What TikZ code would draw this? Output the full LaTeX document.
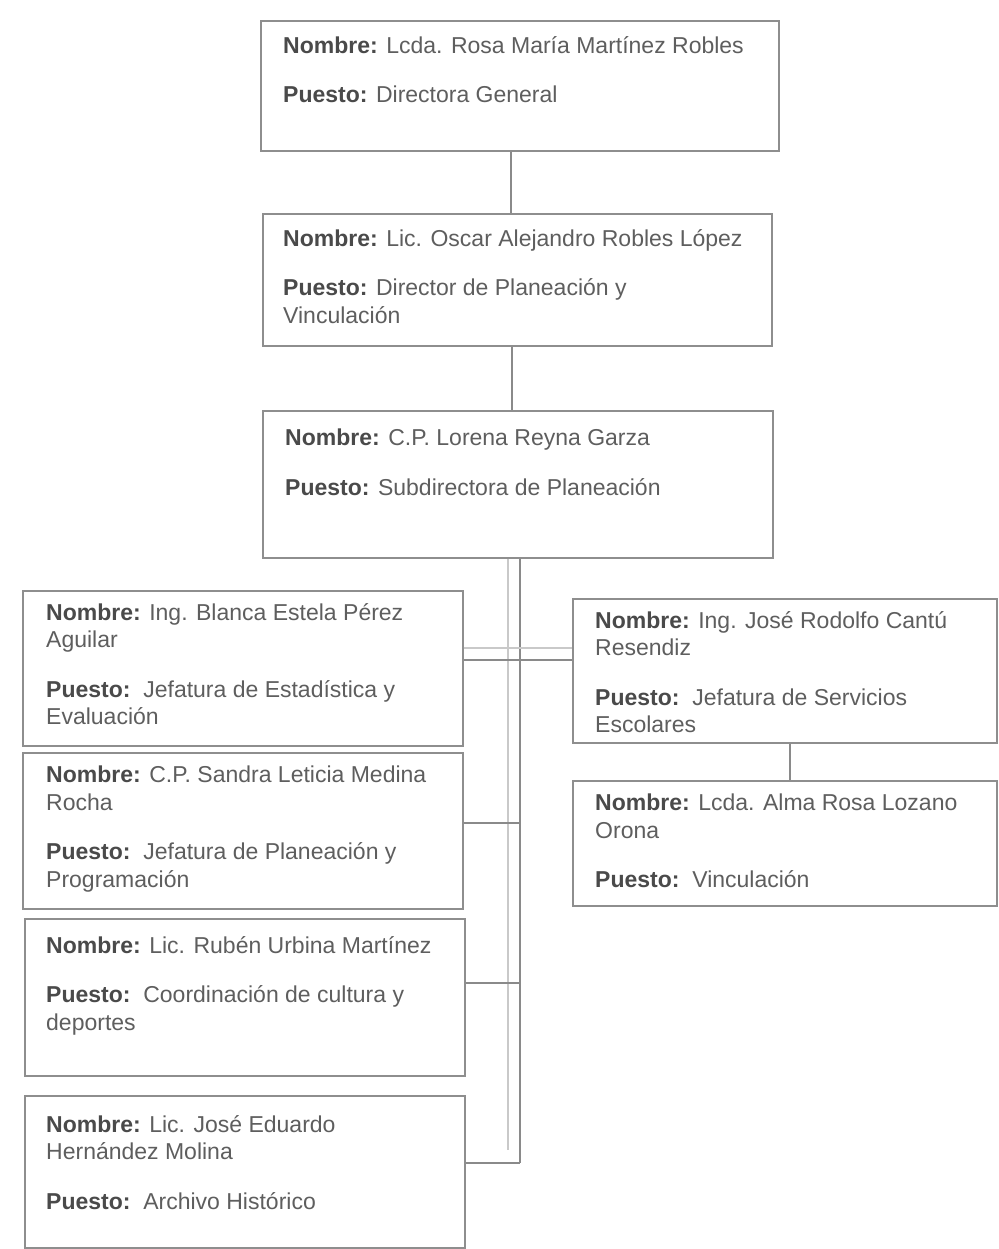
\documentclass[tikz,border=0pt]{standalone}
\usepackage{fontspec}
\setmainfont{Liberation Sans}
\definecolor{txtgray}{HTML}{5E5E5E}
\definecolor{lblgray}{HTML}{4A4A4A}
\definecolor{framegray}{HTML}{8E8E8E}
\definecolor{shadegray}{HTML}{C9C9C9}
\definecolor{linkgray}{HTML}{8A8A8A}
\newcommand\lbl[1]{{\color{lblgray}\bfseries #1}}
\tikzset{
  orgbox/.style={draw=framegray, line width=1.6pt, fill=white, inner sep=0pt},
  txt/.style={anchor=north west, inner sep=0pt, align=left, text=txtgray,
              font=\fontsize{23}{27.5}\selectfont},
  link/.style={draw=linkgray, line width=1.8pt},
  faintlink/.style={draw=shadegray, line width=1.4pt}
}
\begin{document}
\begin{tikzpicture}[x=1pt, y=-1pt]
\useasboundingbox[fill=white] (0,0) rectangle (998,1249);

% ---- boxes ----
\node[orgbox, minimum width=518pt, minimum height=130pt, anchor=north west] (b1) at (260,20) {};
\node[orgbox, minimum width=509pt, minimum height=132pt, anchor=north west] (b2) at (262,213) {};
\node[orgbox, minimum width=510pt, minimum height=147pt, anchor=north west] (b3) at (262,410) {};
\node[orgbox, minimum width=440pt, minimum height=155pt, anchor=north west] (l1) at (22,590) {};
\node[orgbox, minimum width=440pt, minimum height=156pt, anchor=north west] (l2) at (22,752) {};
\node[orgbox, minimum width=440pt, minimum height=157pt, anchor=north west] (l3) at (24,918) {};
\node[orgbox, minimum width=440pt, minimum height=152pt, anchor=north west] (l4) at (24,1095) {};
\node[orgbox, minimum width=424pt, minimum height=144pt, anchor=north west] (r1) at (572,598) {};
\node[orgbox, minimum width=424pt, minimum height=125pt, anchor=north west] (r2) at (572,780) {};

% ---- texts ----
\node[txt] (t1) at ([shift={(23,16)}]b1.north west)
  {\lbl{Nombre:} Lcda. Rosa María Martínez Robles\\[22pt]
   \lbl{Puesto:} Directora General};
\node[txt] (t2) at ([shift={(21,16)}]b2.north west)
  {\lbl{Nombre:} Lic. Oscar Alejandro Robles López\\[22pt]
   \lbl{Puesto:} Director de Planeación y\\
   Vinculación};
\node[txt] (t3) at ([shift={(23,19)}]b3.north west)
  {\lbl{Nombre:} C.P. Lorena Reyna Garza\\[22pt]
   \lbl{Puesto:} Subdirectora de Planeación};
\node[txt] (t4) at ([shift={(24,13)}]l1.north west)
  {\lbl{Nombre:} Ing. Blanca Estela Pérez\\
   Aguilar\\[22pt]
   \lbl{Puesto:}\ \ Jefatura de Estadística y\\
   Evaluación};
\node[txt] (t5) at ([shift={(24,14)}]l2.north west)
  {\lbl{Nombre:} C.P. Sandra Leticia Medina\\
   Rocha\\[22pt]
   \lbl{Puesto:}\ \ Jefatura de Planeación y\\
   Programación};
\node[txt] (t6) at ([shift={(22,18)}]l3.north west)
  {\lbl{Nombre:} Lic. Rubén Urbina Martínez\\[22pt]
   \lbl{Puesto:}\ \ Coordinación de cultura y\\
   deportes};
\node[txt] (t7) at ([shift={(22,20)}]l4.north west)
  {\lbl{Nombre:} Lic. José Eduardo\\
   Hernández Molina\\[22pt]
   \lbl{Puesto:}\ \ Archivo Histórico};
\node[txt] (t8) at ([shift={(23,13)}]r1.north west)
  {\lbl{Nombre:} Ing. José Rodolfo Cantú\\
   Resendiz\\[22pt]
   \lbl{Puesto:}\ \ Jefatura de Servicios\\
   Escolares};
\node[txt] (t9) at ([shift={(23,14)}]r2.north west)
  {\lbl{Nombre:} Lcda. Alma Rosa Lozano\\
   Orona\\[22pt]
   \lbl{Puesto:}\ \ Vinculación};

% ---- connector guide points ----
\coordinate (top1)  at (511,0);
\coordinate (top2)  at (512,0);
\coordinate (trunk) at (520,1163);
\coordinate (twin)  at (508,1150);
\coordinate (rx)    at (790,0);
\coordinate (y1)    at (0,660);
\coordinate (y1b)   at (0,648);
\coordinate (y2)    at (0,823);
\coordinate (y3)    at (0,983);

% ---- connectors ----
\draw[link] (b1.south -| top1) -- (b2.north -| top1);
\draw[link] (b2.south -| top2) -- (b3.north -| top2);
\draw[faintlink] (b3.south -| twin) -- (twin);
\draw[link] (b3.south -| trunk) -- (trunk);
\draw[link] (l1.east |- y1) -- (r1.west |- y1);
\draw[faintlink] (l1.east |- y1b) -- (r1.west |- y1b);
\draw[link] (l2.east |- y2) -- (trunk |- y2);
\draw[link] (l3.east |- y3) -- (trunk |- y3);
\draw[link] (l4.east |- trunk) -- (trunk);
\draw[link] (r1.south -| rx) -- (r2.north -| rx);
\end{tikzpicture}
\end{document}
